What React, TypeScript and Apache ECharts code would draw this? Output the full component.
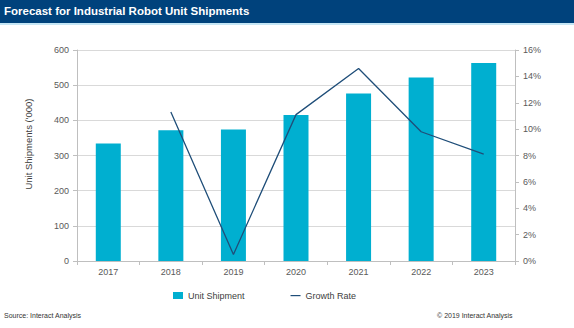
import React, { useEffect, useRef } from "react";
import * as echarts from "echarts";

const years = ["2017", "2018", "2019", "2020", "2021", "2022", "2023"];
const unitShipment = [334, 372, 374, 415, 476, 522, 563];
const growthRate = [null, 11.3, 0.5, 11.1, 14.6, 9.8, 8.1];
const leftTicks = [0, 100, 200, 300, 400, 500, 600];
const rightTicks = [0, 2, 4, 6, 8, 10, 12, 14, 16];

const FONT = "Liberation Sans, Arial, sans-serif";

export default function App() {
  const ref = useRef<HTMLDivElement>(null);
  useEffect(() => {
    if (!ref.current) return;
    const chart = echarts.init(ref.current, null, { renderer: "svg" });
    chart.setOption({
      animation: false,
      backgroundColor: "#ffffff",
      textStyle: { fontFamily: FONT },
      graphic: [
        { type: "rect", left: 0, top: 0, shape: { width: 574, height: 23 }, style: { fill: "#00427c" }, z: 0 },
        { type: "rect", left: 0, top: 23, shape: { width: 574, height: 2 }, style: { fill: "#c5e6f5" }, z: 0 },
        { type: "text", left: 4, top: 5, style: { text: "Forecast for Industrial Robot Unit Shipments", fill: "#ffffff", font: "bold 11.5px " + FONT }, z: 10 },
        { type: "text", left: 4, top: 312, style: { text: "Source: Interact Analysis", fill: "#333333", font: "7px " + FONT } },
        { type: "text", right: 61, top: 312, style: { text: "© 2019 Interact Analysis", fill: "#333333", font: "7px " + FONT } },
        {
          type: "text",
          x: 28,
          y: 144,
          rotation: Math.PI / 2,
          style: { text: "Unit Shipments ('000)", fill: "#404040", font: "9.5px " + FONT, align: "center", verticalAlign: "middle" },
        },
      ],
      legend: {
        left: 168,
        top: 286,
        itemGap: 46,
        itemWidth: 10,
        itemHeight: 7,
        textStyle: { fontSize: 9, color: "#404040", fontFamily: FONT },
        data: [
          { name: "Unit Shipment", icon: "rect" },
          { name: "Growth Rate", icon: "path://M0,0M0,3h10v1.2h-10zM10,7", itemStyle: { color: "#1f4e79" } },
        ],
      },
      grid: { left: 77, right: 59, top: 50, bottom: 67, containLabel: false },
      xAxis: {
        type: "category",
        data: years,
        axisLine: { lineStyle: { color: "#bfbfbf" } },
        axisTick: { show: true, alignWithLabel: false, length: 4, lineStyle: { color: "#bfbfbf" } },
        axisLabel: { color: "#595959", fontSize: 9, margin: 6 },
      },
      yAxis: [
        {
          type: "value",
          min: leftTicks[0],
          max: leftTicks[leftTicks.length - 1],
          interval: 100,
          axisLine: { show: true, lineStyle: { color: "#bfbfbf" } },
          axisTick: { show: true, length: 4, lineStyle: { color: "#bfbfbf" } },
          axisLabel: { color: "#595959", fontSize: 9, margin: 8 },
          splitLine: { lineStyle: { color: "#d9d9d9" } },
        },
        {
          type: "value",
          min: rightTicks[0],
          max: rightTicks[rightTicks.length - 1],
          interval: 2,
          position: "right",
          axisLine: { show: true, lineStyle: { color: "#bfbfbf" } },
          axisTick: { show: true, length: 4, lineStyle: { color: "#bfbfbf" } },
          axisLabel: { color: "#595959", fontSize: 9, margin: 8, formatter: "{value}%" },
          splitLine: { show: false },
        },
      ],
      series: [
        {
          name: "Unit Shipment",
          type: "bar",
          data: unitShipment,
          barWidth: 25,
          itemStyle: { color: "#00afd0" },
        },
        {
          name: "Growth Rate",
          type: "line",
          yAxisIndex: 1,
          data: growthRate,
          symbol: "none",
          lineStyle: { color: "#1f4e79", width: 1.3 },
          itemStyle: { color: "#1f4e79" },
        },
      ],
    });
    return () => chart.dispose();
  }, []);
  return <div ref={ref} style={{ position: "fixed", left: 0, top: 0, width: 574, height: 328 }} />;
}
